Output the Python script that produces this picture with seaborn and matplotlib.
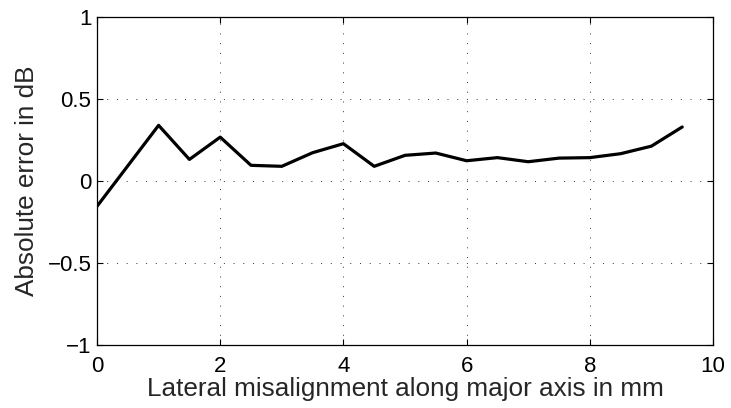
import matplotlib
matplotlib.use("Agg")
import matplotlib.pyplot as plt
import seaborn as sns
import pandas as pd

# Lateral offset (mm) and the resulting absolute error (dB)
offset_mm = [0, 0.5, 1, 1.5, 2, 2.5, 3, 3.5, 4, 4.5,
             5, 5.5, 6, 6.5, 7, 7.5, 8, 8.5, 9, 9.5]
error_db = [-0.154, 0.093, 0.34, 0.132, 0.268, 0.096, 0.09, 0.173, 0.228, 0.09,
            0.157, 0.171, 0.124, 0.143, 0.118, 0.140, 0.143, 0.167, 0.213, 0.33]

x_ticks = [0, 2, 4, 6, 8, 10]
y_ticks = [-1, -0.5, 0, 0.5, 1]
y_ticklabels = ["\u22121", "\u22120.5", "0", "0.5", "1"]

df = pd.DataFrame({"offset": offset_mm, "error": error_db})

sns.set_style("white")
plt.rcParams["font.family"] = ["Liberation Sans", "DejaVu Sans"]

fig = plt.figure(figsize=(7.31, 4.08), dpi=100)
ax = fig.add_axes([0.1327, 0.1544, 0.8427, 0.8036])

sns.lineplot(data=df, x="offset", y="error", color="black", linewidth=2.3, ax=ax)

ax.set_xlim(0, 10)
ax.set_ylim(-1, 1)
ax.set_xticks(x_ticks)
ax.set_xticklabels([str(t) for t in x_ticks])
ax.set_yticks(y_ticks)
ax.set_yticklabels(y_ticklabels)
ax.grid(True, linestyle=(0, (1, 9)), color="black", linewidth=0.7, alpha=0.8)
ax.tick_params(direction="in", length=4, width=0.8, labelsize=16,
               top=True, right=True, bottom=True, left=True, colors="black")
ax.tick_params(axis="x", pad=8)
ax.tick_params(axis="y", pad=4)
for s in ax.spines.values():
    s.set_color("black")
    s.set_linewidth(0.9)

ax.set_xlabel("Lateral misalignment along major axis in mm", fontsize=18.8, labelpad=0)
ax.set_ylabel("Absolute error in dB", fontsize=18.8, labelpad=6)

fig.savefig("out.png", dpi=100)
